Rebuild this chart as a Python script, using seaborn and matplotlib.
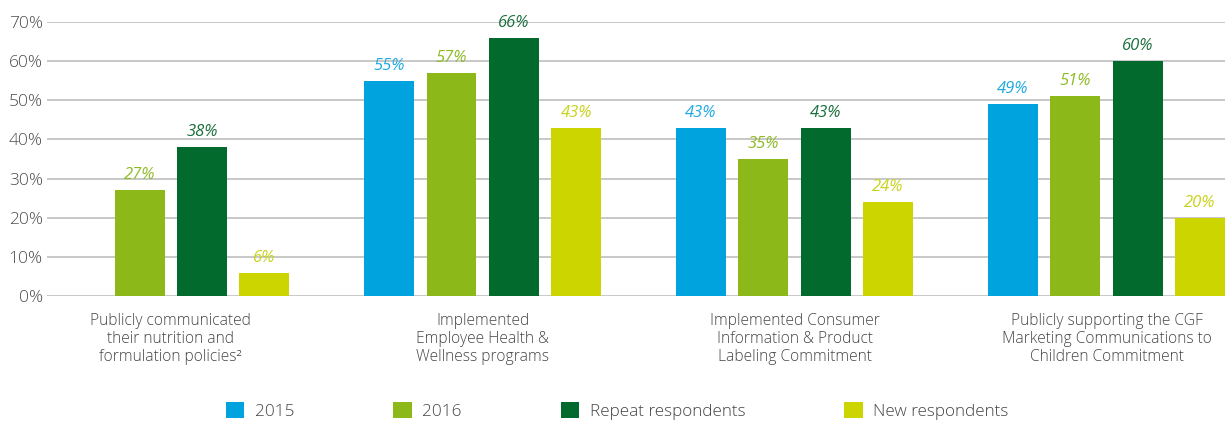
import numpy as np
import pandas as pd
import matplotlib
matplotlib.use("Agg")
import matplotlib.pyplot as plt
import seaborn as sns

categories = [
    "Publicly communicated\ntheir nutrition and\nformulation policies\u00b2",
    "Implemented\nEmployee Health &\nWellness programs",
    "Implemented Consumer\nInformation & Product\nLabeling Commitment",
    "Publicly supporting the CGF\nMarketing Communications to\nChildren Commitment",
]
series = ["2015", "2016", "Repeat respondents", "New respondents"]
vals_2015 = [np.nan, 55, 43, 49]
vals_2016 = [27, 57, 35, 51]
vals_repeat = [38, 66, 43, 60]
vals_new = [6, 43, 24, 20]

bar_colors = ["#00a3de", "#8cb81a", "#036a2e", "#cdd500"]
label_colors = ["#1fa9e1", "#8dbb25", "#1a6e3c", "#c9d21a"]

df = pd.DataFrame({
    "category": categories * 4,
    "series": np.repeat(series, 4),
    "value": vals_2015 + vals_2016 + vals_repeat + vals_new,
})
df = df.dropna()

sns.set_style("white")
plt.rcParams["font.family"] = ["Open Sans", "DejaVu Sans"]
plt.rcParams["font.weight"] = "light"

fig = plt.figure(figsize=(12.27, 4.22), dpi=100)
ax = fig.add_axes([47 / 1227, 1 - 296 / 422, (1225 - 47) / 1227, (296 - 22) / 422])

sns.barplot(data=df, x="category", y="value", hue="series", order=categories,
            hue_order=series, palette=bar_colors, width=0.8, gap=0.2,
            saturation=1, linewidth=0, ax=ax, legend=True)

for cont, col in zip(ax.containers, label_colors):
    ax.bar_label(cont, fmt="{:.0f}%", padding=5, color=col, fontsize=12,
                 fontstyle="italic", fontweight="normal")

ax.set_ylim(0, 70)
ax.set_xlim(-0.397, 0.38 + 3)
ax.set_yticks(range(0, 71, 10))
ax.set_yticklabels([f"{t}%" for t in range(0, 71, 10)])
ax.yaxis.grid(True, color="#c8c8c8", linewidth=1.4)
ax.set_axisbelow(True)
for s in ax.spines.values():
    s.set_visible(False)
ax.tick_params(axis="y", length=0, pad=3, labelsize=12.5, labelcolor="#4d4d4d")
ax.tick_params(axis="x", length=0, pad=12, labelsize=11.2, labelcolor="#444444")
ax.set_xlabel("")
ax.set_ylabel("")

handles, labels = ax.get_legend_handles_labels()
ax.get_legend().remove()
fig.legend(handles, labels, loc="center", bbox_to_anchor=(0.503, 1 - 411 / 422),
           ncol=4, frameon=False, fontsize=12.3, handlelength=1.1,
           handleheight=1.1, handletextpad=0.6, columnspacing=5.8,
           labelcolor="#444444")

fig.savefig("out.png", dpi=100)
